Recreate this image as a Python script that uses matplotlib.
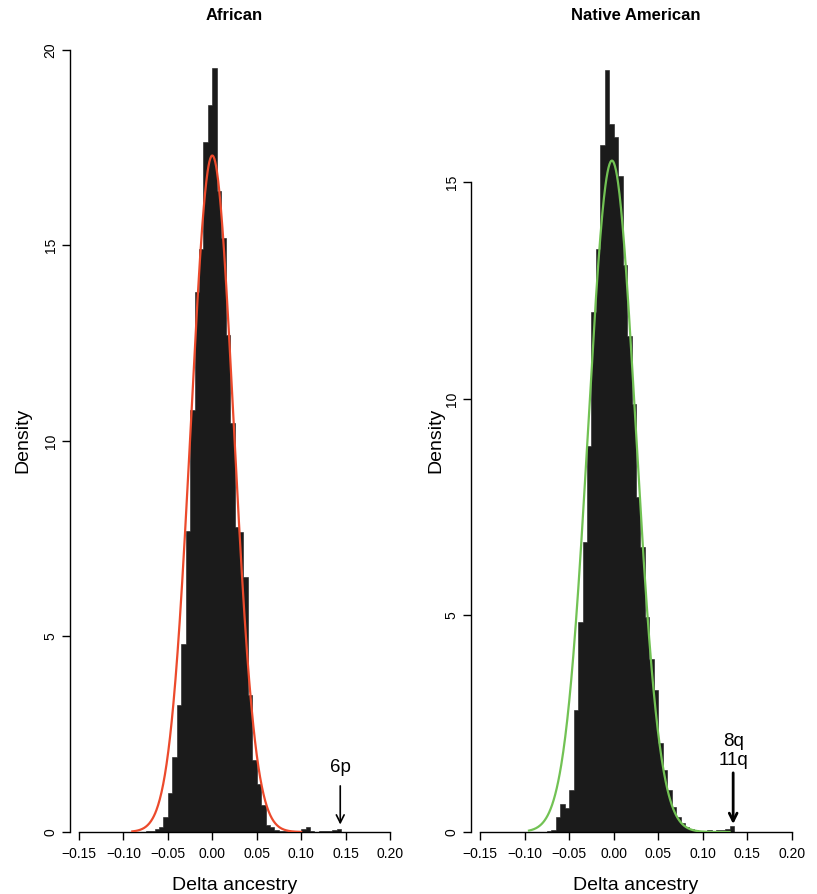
import numpy as np
import matplotlib
matplotlib.use("Agg")
import matplotlib.pyplot as plt

plt.rcParams['font.family'] = ['Liberation Sans', 'DejaVu Sans']

# ---------------- data ----------------
bin_width = 0.005
bin_start = -0.075

african_density = [0.02, 0.03, 0.08, 0.14, 0.39, 0.99, 1.93, 3.25, 4.80, 7.70,
                   10.80, 13.80, 14.90, 17.65, 18.60, 19.53, 16.40, 15.20, 12.70, 10.45,
                   7.80, 7.68, 6.53, 3.50, 1.84, 1.24, 0.69, 0.18, 0.12, 0.05,
                   0.03, 0.02, 0.00, 0.00, 0.00, 0.08, 0.13, 0.02, 0.00, 0.02,
                   0.03, 0.02, 0.05, 0.08]

native_density = [0.02, 0.05, 0.35, 0.645, 0.55, 0.97, 2.81, 4.85, 6.70, 8.90,
                  12.00, 13.45, 15.85, 17.60, 16.34, 16.04, 15.14, 13.10, 11.45, 9.88,
                  7.73, 6.57, 4.96, 4.00, 3.27, 2.05, 1.43, 0.97, 0.58, 0.35,
                  0.20, 0.12, 0.06, 0.04, 0.02, 0.02, 0.04, 0.02, 0.05, 0.05,
                  0.08, 0.15]

# fitted curves (peak height, mean, sd, x-range)
african_fit = dict(peak=17.3, mean=0.0, sd=0.0240, lo=-0.09, hi=0.10)
native_fit = dict(peak=15.5, mean=-0.002, sd=0.0265, lo=-0.095, hi=0.13)

x_ticks = [-0.15, -0.10, -0.05, 0.00, 0.05, 0.10, 0.15, 0.20]
x_tick_labels = ["\u22120.15", "\u22120.10", "\u22120.05", "0.00", "0.05", "0.10", "0.15", "0.20"]
african_yticks = [0, 5, 10, 15, 20]
native_yticks = [0, 5, 10, 15]

african_arrow = dict(x=0.144, labels=["6p"])
native_arrow = dict(x=0.134, labels=["8q", "11q"])

# ---------------- figure ----------------
W, H = 817, 894
fig = plt.figure(figsize=(W / 100, H / 100), dpi=100)

bar_color = "#1b1b1b"


def make_panel(rect, density, fit, color, ylim, yticks, title, arrow, arrow_top, text_ys, ylabelpad):
    ax = fig.add_axes(rect)
    edges = bin_start + bin_width * np.arange(len(density) + 1)
    ax.stairs(density, edges, fill=True, color=bar_color, edgecolor=bar_color, linewidth=0.4)
    xs = np.linspace(fit['lo'], fit['hi'], 400)
    ys = fit['peak'] * np.exp(-0.5 * ((xs - fit['mean']) / fit['sd']) ** 2)
    ax.plot(xs, ys, color=color, lw=1.6, zorder=3)

    ax.set_xlim(-0.16, 0.21)
    ax.set_ylim(*ylim)
    for s in ['top', 'right']:
        ax.spines[s].set_visible(False)
    ax.spines['left'].set_bounds(yticks[0], yticks[-1])
    ax.spines['bottom'].set_bounds(x_ticks[0], x_ticks[-1])
    for s in ['left', 'bottom']:
        ax.spines[s].set_linewidth(1.0)
    ax.set_xticks(x_ticks)
    ax.set_xticklabels(x_tick_labels)
    ax.set_yticks(yticks)
    ax.set_yticklabels([str(v) for v in yticks], rotation=90, va='center')
    ax.tick_params(axis='both', direction='out', length=6, width=1.0, labelsize=10)
    ax.tick_params(axis='x', pad=5)
    ax.tick_params(axis='y', pad=3)
    ax.set_xlabel("Delta ancestry", fontsize=14, labelpad=11)
    ax.set_ylabel("Density", fontsize=14, labelpad=ylabelpad)
    ax.set_title(title, fontsize=12, fontweight='bold', pad=20)

    ax.annotate("", xy=(arrow['x'], 0.12), xytext=(arrow['x'], arrow_top),
                arrowprops=dict(arrowstyle='->', lw=1.2 if len(arrow['labels']) == 1 else 2.0,
                                color='black', mutation_scale=14))
    for lab, ty in zip(arrow['labels'], text_ys):
        ax.text(arrow['x'], ty, lab, ha='center', va='center', fontsize=13.5)
    return ax


ax1 = make_panel([70.1 / W, 1 - 832 / H, 328.8 / W, 784 / H],
                 african_density, african_fit, "#ec4a2c", (0, 20.05), african_yticks,
                 "African", african_arrow, 1.25, [1.66], 9)
ax2 = make_panel([471.1 / W, 1 - 832 / H, 329.8 / W, 784 / H],
                 native_density, native_fit, "#72c254", (0, 18.1), native_yticks,
                 "Native American", native_arrow, 1.43, [2.08, 1.66], 0)

fig.savefig("out.png", dpi=100)
